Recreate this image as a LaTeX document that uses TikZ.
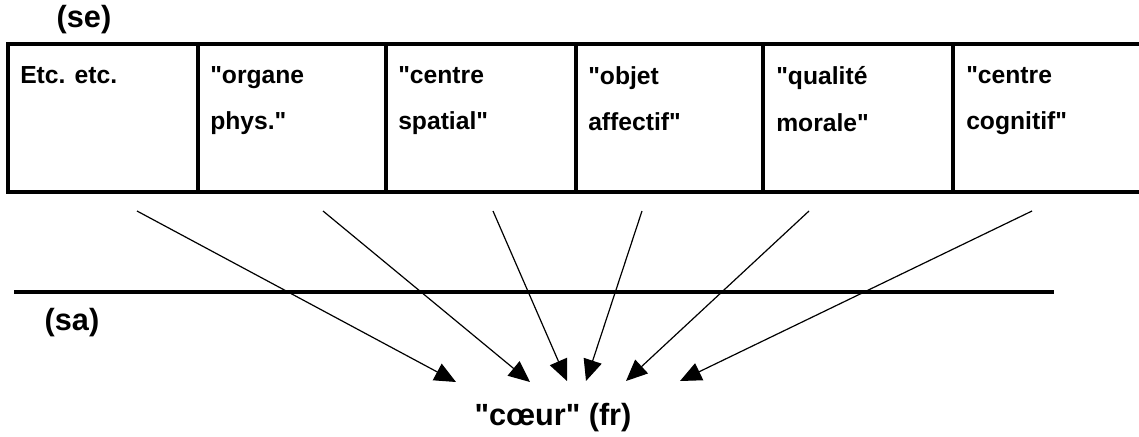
\documentclass[tikz,border=0pt]{standalone}
\usepackage{fontspec}
\setmainfont{Liberation Sans}
\usetikzlibrary{arrows.meta,positioning}
\newcommand{\qd}{\textquotedbl}
\tikzstyle{cell} = [anchor=north west, inner sep=0pt, align=left, font=\fontsize{18.5}{35}\selectfont\bfseries]
\tikzstyle{tag} = [inner sep=0pt, font=\fontsize{23}{26}\selectfont\bfseries]
\tikzstyle{rule} = [line width=2.3pt, line cap=rect]
\tikzstyle{arrow} = [line width=0.9pt, -{Triangle[length=16pt, width=14pt]}]

\begin{document}
\begin{tikzpicture}[x=0.75pt, y=-0.75pt]
    \useasboundingbox (0,0) rectangle (1139,436);

    % Table
    \draw [rule] (8,44) -- (1139,44);
    \draw [rule] (8,192) -- (1139,192);
    \foreach \x in {8,198,386,576,763,953}
        \draw [rule] (\x,44) -- (\x,192);

    % Nodes
    \node (se) [tag] at (84,20) {(se)};
    \node (etc) [cell] at (20,66) {Etc. etc.};
    \node (organe) [cell] at (210,66) {\qd organe\\phys.\qd};
    \node (spatial) [cell] at (398,66) {\qd centre\\spatial\qd};
    \node (affectif) [cell] at (588,66) {\qd objet\\affectif\qd};
    \node (morale) [cell] at (776,66) {\qd qualit\'e\\morale\qd};
    \node (cognitif) [cell] at (966,66) {\qd centre\\cognitif\qd};

    \draw [rule, line cap=butt] (14,292) -- (1054,292);
    \node (sa) [tag] at (72,323) {(sa)};
    \node (coeur) [tag] at (553,418) {\qd cœur\qd{} (fr)};

    % Arrow ends
    \coordinate (from1) at (137,211);
    \coordinate (from2) at (323,211);
    \coordinate (from3) at (493,211);
    \coordinate (from4) at (642,211);
    \coordinate (from5) at (809,211);
    \coordinate (from6) at (1032,211);
    \coordinate (to1) at (456,382);
    \coordinate (to2) at (530,382);
    \coordinate (to3) at (567,381);
    \coordinate (to4) at (586,381);
    \coordinate (to5) at (626,381);
    \coordinate (to6) at (680,381);

    % Arrows
    \draw [arrow] (from1) -- (to1);
    \draw [arrow] (from2) -- (to2);
    \draw [arrow] (from3) -- (to3);
    \draw [arrow] (from4) -- (to4);
    \draw [arrow] (from5) -- (to5);
    \draw [arrow] (from6) -- (to6);
\end{tikzpicture}
\end{document}
